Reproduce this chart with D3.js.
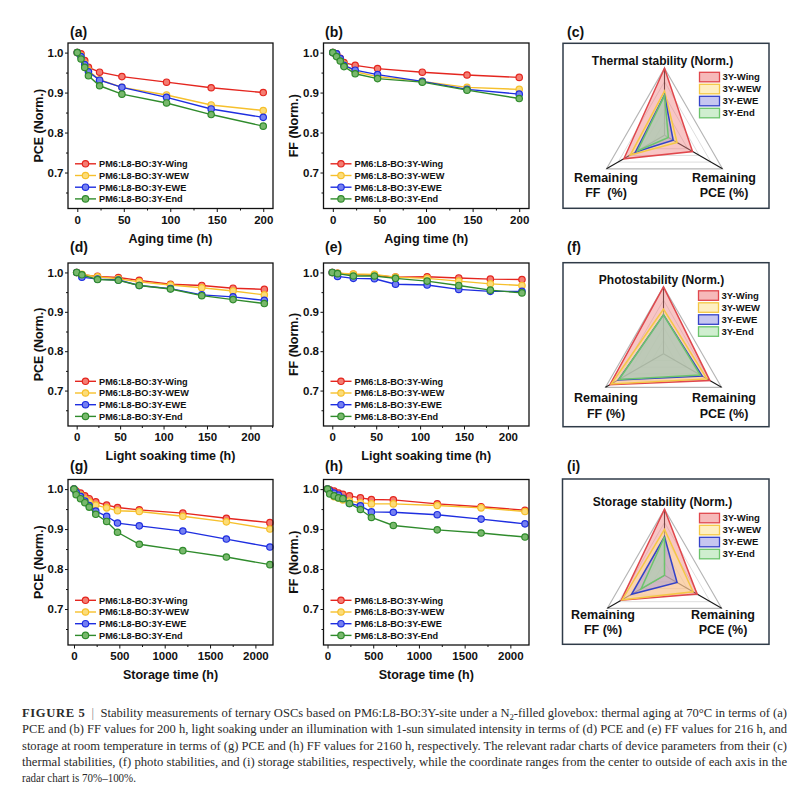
<!DOCTYPE html>
<html><head><meta charset="utf-8">
<script src="https://cdn.jsdelivr.net/npm/d3@7"></script>
<style>body{margin:0;background:#fff} svg{display:block}</style>
</head><body><svg id="c" width="811" height="790"></svg>
<script>
// ---------------- DATA ----------------
const seriesNames = ["PM6:L8-BO:3Y-Wing","PM6:L8-BO:3Y-WEW","PM6:L8-BO:3Y-EWE","PM6:L8-BO:3Y-End"];
const radarNames = ["3Y-Wing","3Y-WEW","3Y-EWE","3Y-End"];
const yTicks = [0.7,0.8,0.9,1.0];
const yMinor = [0.65,0.75,0.85,0.95];
const hourTicks = [0,50,100,150,200];
const hourMinor = [25,75,125,175,225];
const storageTicks = [0,500,1000,1500,2000];
const storageMinor = [250,750,1250,1750];

const thermalTime = [0,4,8,12,24,48,96,144,200];
const lightTime = [0,6,24,48,72,108,144,180,216];
const storageTime = [0,24,72,120,168,240,360,480,720,1200,1680,2160];

const thermalPCE = [
  [1.0,0.997,0.980,0.963,0.951,0.940,0.926,0.912,0.900],
  [1.0,0.992,0.972,0.955,0.932,0.913,0.894,0.869,0.855],
  [1.0,0.990,0.970,0.952,0.931,0.913,0.888,0.859,0.838],
  [1.0,0.984,0.963,0.942,0.917,0.896,0.874,0.845,0.816]];
const thermalFF = [
  [1.0,0.997,0.986,0.975,0.968,0.960,0.951,0.944,0.938],
  [1.0,0.995,0.983,0.970,0.952,0.940,0.928,0.913,0.908],
  [1.0,0.997,0.985,0.968,0.956,0.945,0.928,0.908,0.896],
  [1.0,0.990,0.979,0.965,0.947,0.935,0.926,0.906,0.885]];
const lightPCE = [
  [1.0,0.994,0.990,0.987,0.980,0.970,0.967,0.960,0.957],
  [1.0,0.995,0.989,0.984,0.976,0.968,0.961,0.953,0.943],
  [1.0,0.988,0.983,0.981,0.967,0.959,0.943,0.938,0.929],
  [1.0,0.994,0.982,0.980,0.967,0.958,0.941,0.931,0.921]];
const lightFF = [
  [1.0,0.998,0.995,0.993,0.988,0.989,0.986,0.983,0.982],
  [1.0,0.998,0.996,0.995,0.988,0.985,0.978,0.971,0.967],
  [1.0,0.990,0.985,0.984,0.970,0.968,0.957,0.952,0.952],
  [1.0,0.997,0.991,0.991,0.985,0.978,0.967,0.955,0.948]];
const storagePCE = [
  [1.0,0.995,0.990,0.983,0.976,0.968,0.960,0.954,0.948,0.940,0.927,0.916],
  [1.0,0.993,0.985,0.975,0.968,0.960,0.953,0.946,0.944,0.932,0.918,0.900],
  [1.0,0.992,0.982,0.970,0.959,0.945,0.932,0.915,0.908,0.895,0.875,0.855],
  [1.0,0.986,0.976,0.966,0.955,0.937,0.919,0.892,0.862,0.846,0.830,0.811]];
const storageFF = [
  [1.0,0.998,0.995,0.990,0.987,0.983,0.978,0.974,0.973,0.963,0.956,0.947],
  [1.0,0.990,0.981,0.978,0.973,0.970,0.966,0.963,0.963,0.959,0.953,0.944],
  [1.0,0.996,0.990,0.985,0.977,0.964,0.958,0.943,0.942,0.936,0.925,0.913],
  [1.0,0.988,0.983,0.978,0.976,0.964,0.949,0.929,0.909,0.898,0.890,0.880]];

// radar values: [stability (top), remaining PCE (right), remaining FF (left)], range 0.7-1.0
const radarRange = [0.7,1.0];
const radarLevels = [0.76,0.82,0.88,0.94,1.0];
const thermalRadar = [[1.0,0.845,0.91],[0.898,0.765,0.877],[0.88,0.745,0.85],[0.878,0.72,0.84]];
const photoRadar   = [[1.0,0.94,0.977],[0.90,0.925,0.97],[0.874,0.90,0.933],[0.874,0.89,0.93]];
const storageRadar = [[1.0,0.871,0.927],[0.909,0.85,0.922],[0.875,0.766,0.873],[0.875,0.70,0.823]];

const captionLines = [
  "Stability measurements of ternary OSCs based on PM6:L8-BO:3Y-site under a N",
  "PCE and (b) FF values for 200 h, light soaking under an illumination with 1-sun simulated intensity in terms of (d) PCE and (e) FF values for 216 h, and",
  "storage at room temperature in terms of (g) PCE and (h) FF values for 2160 h, respectively. The relevant radar charts of device parameters from their (c)",
  "thermal stabilities, (f) photo stabilities, and (i) storage stabilities, respectively, while the coordinate ranges from the center to outside of each axis in the",
  "radar chart is 70%\u2013100%."];

// ---------------- DRAW ----------------
const FONT = '"Liberation Sans", Arial, Helvetica, sans-serif';
const svg = d3.select("#c");
svg.append("rect").attr("width",811).attr("height",790).attr("fill","#fff");
const lineColors = ["#e4261f","#f6c02c","#1e2ee0","#2f8b2c"];
const markerFill = ["#f47d72","#fcdc78","#7580f0","#78b86c"];
const yDomain = [0.61,1.024];

function styleAxis(sel){
  sel.select(".domain").remove();
  sel.selectAll("line").attr("stroke","#111").attr("stroke-width",1);
  sel.selectAll("text").attr("font-family",FONT).attr("font-weight","bold").attr("font-size",11.5).attr("fill","#111");
}

function linePanel(c){
  const x = d3.scaleLinear().domain(c.xDomain).range([c.x0,c.x1]);
  const y = d3.scaleLinear().domain(yDomain).range([c.y1,c.y0]);
  const g = svg.append("g");
  g.append("g").attr("transform",`translate(0,${c.y1})`)
    .call(d3.axisBottom(x).tickValues(c.xMinor.filter(v=>v<c.xDomain[1])).tickSize(2).tickFormat("")).call(styleAxis);
  g.append("g").attr("transform",`translate(0,${c.y1})`)
    .call(d3.axisBottom(x).tickValues(c.xTicks).tickSize(3.5).tickPadding(3.5).tickFormat(d3.format("d"))).call(styleAxis);
  g.append("g").attr("transform",`translate(${c.x0},0)`)
    .call(d3.axisLeft(y).tickValues(yMinor).tickSize(2).tickFormat("")).call(styleAxis);
  g.append("g").attr("transform",`translate(${c.x0},0)`)
    .call(d3.axisLeft(y).tickValues(yTicks).tickSize(3).tickPadding(1.5).tickFormat(d3.format(".1f"))).call(styleAxis);

  const line = d3.line().x((d,i)=>x(c.times[i])).y(d=>y(d));
  c.data.forEach((s,k)=>{
    g.append("path").attr("d",line(s)).attr("fill","none").attr("stroke",lineColors[k]).attr("stroke-width",1.4);
    g.selectAll(null).data(s).enter().append("circle")
      .attr("cx",(d,i)=>x(c.times[i])).attr("cy",d=>y(d)).attr("r",3.2)
      .attr("fill",markerFill[k]).attr("stroke",lineColors[k]).attr("stroke-width",1.2);
  });
  g.append("rect").attr("x",c.x0).attr("y",c.y0).attr("width",c.x1-c.x0).attr("height",c.y1-c.y0)
    .attr("fill","none").attr("stroke","#111").attr("stroke-width",1.3);

  // legend
  seriesNames.forEach((n,k)=>{
    const yy = c.y1-44.7+k*11.7;
    g.append("line").attr("x1",c.x0+7).attr("x2",c.x0+28).attr("y1",yy).attr("y2",yy)
      .attr("stroke",lineColors[k]).attr("stroke-width",1.4);
    g.append("circle").attr("cx",c.x0+17.5).attr("cy",yy).attr("r",3.2)
      .attr("fill",markerFill[k]).attr("stroke",lineColors[k]).attr("stroke-width",1.2);
    g.append("text").attr("x",c.x0+31).attr("y",yy).attr("dy","0.36em").text(n)
      .attr("font-family",FONT).attr("font-weight","bold").attr("font-size",9.2).attr("fill","#111");
  });
  g.append("text").attr("x",(c.x0+c.x1)/2).attr("y",c.y1+34).attr("text-anchor","middle").text(c.xTitle)
    .attr("font-family",FONT).attr("font-weight","bold").attr("font-size",12.5).attr("fill","#111");
  g.append("text").attr("transform",`translate(${c.x0-30},${(c.y0+c.y1)/2}) rotate(-90)`).attr("dy","0.36em")
    .attr("text-anchor","middle").text(c.yTitle)
    .attr("font-family",FONT).attr("font-weight","bold").attr("font-size",12.5).attr("fill","#111");
}

const radarStroke = ["#e0474c","#f4c845","#3442c8","#6cc46c"];
const radarFill = ["#ef7f7f","#fde49a","#8d8de2","#a8e0a8"];
const radarOpacity = [0.45,0.5,0.4,0.45];

function radarPanel(c){
  const g = svg.append("g");
  g.append("rect").attr("x",c.bx0).attr("y",c.by0).attr("width",c.bx1-c.bx0).attr("height",c.by1-c.by0)
    .attr("fill","#fff").attr("stroke","#2f3b48").attr("stroke-width",1.5);
  const r = d3.scaleLinear().domain(radarRange).range([0,c.R]);
  const ang = [-90,30,150].map(a=>a*Math.PI/180);
  const pt = (v,i)=>[c.cx+r(v)*Math.cos(ang[i]), c.cy+r(v)*Math.sin(ang[i])];
  const poly = vals => vals.map((v,i)=>pt(v,i).join(",")).join(" ");
  radarLevels.forEach(l=>{
    g.append("polygon").attr("points",poly([l,l,l])).attr("fill","none")
      .attr("stroke", l===1.0 ? "#b5b5b5" : "#d4d4d4").attr("stroke-width", l===1.0?1.2:0.8);
  });
  [0,1,2].forEach(i=>{
    const p = pt(1.0,i);
    g.append("line").attr("x1",c.cx).attr("y1",c.cy).attr("x2",p[0]).attr("y2",p[1])
      .attr("stroke","#1a1a1a").attr("stroke-width",1.1);
  });
  c.vals.forEach((v,k)=>{
    g.append("polygon").attr("points",poly(v)).attr("fill",radarFill[k]).attr("fill-opacity",radarOpacity[k])
      .attr("stroke",radarStroke[k]).attr("stroke-width",1.5).attr("stroke-linejoin","miter");
  });
  const top = pt(1.0,0), right = pt(1.0,1), left = pt(1.0,2);
  g.append("text").attr("x",c.cx-2).attr("y",top[1]-3).attr("text-anchor","middle").text(c.title)
    .attr("font-family",FONT).attr("font-weight","bold").attr("font-size",12).attr("fill","#111");
  // legend
  radarNames.forEach((n,k)=>{
    const yy = top[1]+4+k*12;
    g.append("rect").attr("x",c.cx+35).attr("y",yy).attr("width",20).attr("height",9.5)
      .attr("fill",radarFill[k]).attr("fill-opacity",radarOpacity[k]+0.1).attr("stroke",radarStroke[k]).attr("stroke-width",1.3);
    g.append("text").attr("x",c.cx+58).attr("y",yy+4.75).attr("dy","0.36em").text(n)
      .attr("font-family",FONT).attr("font-weight","bold").attr("font-size",9.5).attr("fill","#111");
  });
  const lab = (x,y,t)=>g.append("text").attr("x",x).attr("y",y).attr("text-anchor","middle").text(t)
      .attr("font-family",FONT).attr("font-weight","bold").attr("font-size",12.5).attr("fill","#111")
      .style("white-space","pre");
  lab(c.lx, left[1]+c.o1, "Remaining");
  lab(c.lx, left[1]+c.o2, c.ffLabel);
  lab(c.rx, right[1]+c.o1, "Remaining");
  lab(c.rx, right[1]+c.o2, "PCE (%)");
}

const colX = [[68,273],[323.5,529]];
const rowY = [[43,208.5],[263,426],[479.5,645]];

linePanel({x0:colX[0][0],x1:colX[0][1],y0:rowY[0][0],y1:rowY[0][1],xDomain:[-10,210.5],xTicks:hourTicks,xMinor:hourMinor,
  times:thermalTime,data:thermalPCE,yTitle:"PCE (Norm.)",xTitle:"Aging time (h)"});
linePanel({x0:colX[1][0],x1:colX[1][1],y0:rowY[0][0],y1:rowY[0][1],xDomain:[-10,210.5],xTicks:hourTicks,xMinor:hourMinor,
  times:thermalTime,data:thermalFF,yTitle:"FF (Norm.)",xTitle:"Aging time (h)"});
linePanel({x0:colX[0][0],x1:colX[0][1],y0:rowY[1][0],y1:rowY[1][1],xDomain:[-10,226],xTicks:hourTicks,xMinor:hourMinor,
  times:lightTime,data:lightPCE,yTitle:"PCE (Norm.)",xTitle:"Light soaking time (h)"});
linePanel({x0:colX[1][0],x1:colX[1][1],y0:rowY[1][0],y1:rowY[1][1],xDomain:[-10,224],xTicks:hourTicks,xMinor:hourMinor,
  times:lightTime,data:lightFF,yTitle:"FF (Norm.)",xTitle:"Light soaking time (h)"});
linePanel({x0:colX[0][0],x1:colX[0][1],y0:rowY[2][0],y1:rowY[2][1],xDomain:[-66,2194],xTicks:storageTicks,xMinor:storageMinor,
  times:storageTime,data:storagePCE,yTitle:"PCE (Norm.)",xTitle:"Storage time (h)"});
linePanel({x0:colX[1][0],x1:colX[1][1],y0:rowY[2][0],y1:rowY[2][1],xDomain:[-44,2204],xTicks:storageTicks,xMinor:storageMinor,
  times:storageTime,data:storageFF,yTitle:"FF (Norm.)",xTitle:"Storage time (h)"});

radarPanel({bx0:563,bx1:769,by0:43.3,by1:208.3,cx:664.5,cy:135.3,R:67,title:"Thermal stability (Norm.)",vals:thermalRadar,
  lx:606,rx:724,o1:13,o2:28,ffLabel:"FF  (%)"});
radarPanel({bx0:563,bx1:769,by0:262.7,by1:426.7,cx:663.5,cy:353.8,R:67,title:"Photostability (Norm.)",vals:photoRadar,
  lx:606,rx:724,o1:14.4,o2:30.5,ffLabel:"FF (%)"});
radarPanel({bx0:562.5,bx1:769,by0:479,by1:644.3,cx:664.5,cy:575.3,R:66,title:"Storage stability (Norm.)",vals:storageRadar,
  lx:603,rx:723,o1:11,o2:26,ffLabel:"FF (%)"});

// panel labels
const panelLabels = [["(a)",70,37],["(b)",325,37],["(c)",567,37],["(d)",70,252],["(e)",325,252],["(f)",567,252],["(g)",70,471],["(h)",325,471],["(i)",567,471]];
panelLabels.forEach(([t,x,y])=>svg.append("text").attr("x",x).attr("y",y).text(t)
  .attr("font-family",FONT).attr("font-weight","bold").attr("font-size",14).attr("fill","#111"));

// caption
const SERIF = '"Liberation Serif","Times New Roman",serif';
const capY = [717,733.3,749.6,765.9,782.2];
const cap0 = svg.append("text").attr("x",22).attr("y",capY[0]).attr("font-family",SERIF).attr("font-size",12.3).attr("fill","#2a2a2a")
  .attr("textLength",765).attr("lengthAdjust","spacingAndGlyphs");
cap0.append("tspan").attr("font-weight","bold").attr("letter-spacing",0.6).text("FIGURE 5");
cap0.append("tspan").attr("fill","#888").text("\u2002|\u2002");
cap0.append("tspan").text(captionLines[0]);
cap0.append("tspan").attr("font-size",8.5).attr("dy",2.5).text("2");
cap0.append("tspan").attr("dy",-2.5).text("-filled glovebox: thermal aging at 70\u00b0C in terms of (a)");
[1,2,3].forEach(i=>svg.append("text").attr("x",22).attr("y",capY[i]).attr("font-family",SERIF).attr("font-size",12.3)
  .attr("fill","#2a2a2a").attr("textLength",765).attr("lengthAdjust","spacingAndGlyphs").text(captionLines[i]));
svg.append("text").attr("x",22).attr("y",capY[4]).attr("font-family",SERIF).attr("font-size",12.3)
  .attr("fill","#2a2a2a").attr("textLength",114).attr("lengthAdjust","spacingAndGlyphs").text(captionLines[4]);
</script></body></html>
